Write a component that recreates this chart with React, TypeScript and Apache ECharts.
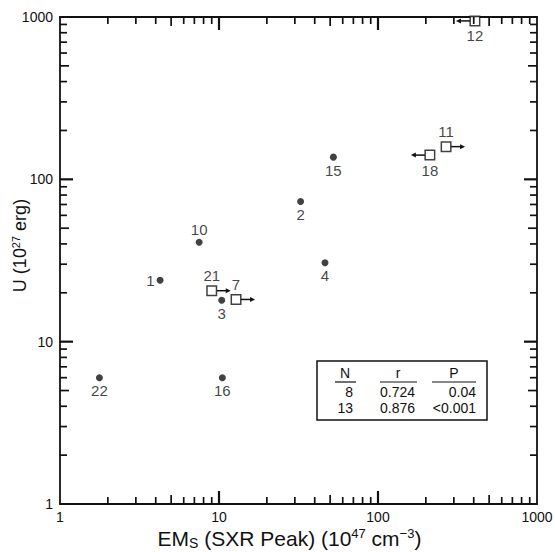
import React, { useEffect, useRef } from 'react';
import * as echarts from 'echarts';

const FONT = '"Liberation Sans", Arial, Helvetica, sans-serif';
const INK = '#111';

// Filled circles (events with measured values)
const circleIds = ['22', '16', '10', '1', '3', '15', '2', '4'];
const circleX = [1.77, 10.5, 7.5, 4.26, 10.4, 52.4, 32.6, 46.4];
const circleY = [6.0, 6.0, 41, 23.9, 18.0, 137, 73, 30.6];
const circleLabelPos = ['bottom', 'bottom', 'top', 'left', 'bottom', 'bottom', 'bottom', 'bottom'];

// Open squares (limits), arrow direction: 1 = right (lower limit), -1 = left (upper limit)
const squareIds = ['21', '7', '11', '18', '12'];
const squareX = [9.0, 12.8, 268, 212, 407];
const squareY = [20.6, 18.2, 159, 141, 946];
const squareLabelPos = ['top', 'top', 'top', 'bottom', 'bottom'];
const squareArrow = [1, 1, 1, -1, -1];

// Axis ticks
const majorTicks = [1, 10, 100, 1000];
const minorMultipliers = [2, 3, 4, 5, 6, 7, 8, 9];
const minorDecades = [1, 10, 100];

// Correlation table
const statsHeader = ['N', 'r', 'P'];
const statsN = ['8', '13'];
const statsR = ['0.724', '0.876'];
const statsP = ['0.04', '<0.001'];

const xName = '{a|EM}{sub|S}{a| (SXR Peak) (10}{sup|47}{a| cm}{sup|−3}{a|)}';
const yName = '{a|U (10}{sup|27}{a| erg)}';

const minorVals: number[] = [];
minorDecades.forEach((d) => minorMultipliers.forEach((m) => minorVals.push(d * m)));

const makeRich = (size: number) => ({
  a: { fontSize: size, fontFamily: FONT, color: INK, lineHeight: size + 2, verticalAlign: 'middle' },
  sub: { fontSize: Math.round(size * 0.68), fontFamily: FONT, color: INK, lineHeight: size + 2, verticalAlign: 'bottom' },
  sup: { fontSize: Math.round(size * 0.62), fontFamily: FONT, color: INK, lineHeight: size + 2, verticalAlign: 'top' },
});

const axisCommon = (pos: string, show: boolean) => ({
  type: 'log',
  logBase: 10,
  min: majorTicks[0],
  max: majorTicks[majorTicks.length - 1],
  position: pos,
  nameMoveOverlap: false,
  axisLine: { show: true, onZero: false, lineStyle: { color: INK, width: 1.8 } },
  axisTick: { show: false },
  axisLabel: {
    show,
    color: INK,
    fontSize: 14,
    fontFamily: FONT,
    formatter: (v: number) => String(Math.round(v)),
  },
  splitLine: { show: false },
  minorTick: { show: false },
});

const tickLen = (v: number) => {
  const m = Math.round(v / Math.pow(10, Math.floor(Math.log10(v) + 1e-9)));
  return m === 5 ? 9 : 7;
};

export default function App() {
  const ref = useRef<HTMLDivElement>(null);
  useEffect(() => {
    if (!ref.current) return;
    const chart = echarts.init(ref.current, undefined, { renderer: 'svg' });

    const option: any = {
      animation: false,
      backgroundColor: '#fff',
      grid: { left: 60, right: 18, top: 17, bottom: 48, containLabel: false, outerBoundsMode: 'none' },
      xAxis: [
        {
          ...axisCommon('bottom', true),
          axisLabel: { ...axisCommon('bottom', true).axisLabel, margin: 6 },
          name: xName,
          nameLocation: 'middle',
          nameGap: 23,
          nameTextStyle: { rich: makeRich(21), padding: [0, 18, 0, 0] },
        },
        { ...axisCommon('top', false) },
      ],
      yAxis: [
        {
          ...axisCommon('left', true),
          axisLabel: { ...axisCommon('left', true).axisLabel, margin: 7 },
          name: yName,
          nameLocation: 'middle',
          nameGap: 30,
          nameTextStyle: { rich: makeRich(18), padding: [0, 0, 0, 30] },
        },
        { ...axisCommon('right', false) },
      ],
      series: [
        {
          type: 'custom',
          silent: true,
          clip: false,
          z: 3,
          data: squareX.map((x, i) => [x, squareY[i], squareArrow[i]]),
          renderItem: (params: any, api: any) => {
            const p = api.coord([api.value(0), api.value(1)]);
            const d = api.value(2);
            const x0 = p[0] + d * 5;
            const x1 = p[0] + d * 19;
            return {
              type: 'group',
              children: [
                { type: 'line', shape: { x1: x0, y1: p[1], x2: x1 - d * 4, y2: p[1] }, style: { stroke: INK, lineWidth: 1.5 } },
                {
                  type: 'polygon',
                  shape: { points: [[x1, p[1]], [x1 - d * 5, p[1] - 2.5], [x1 - d * 5, p[1] + 2.5]] },
                  style: { fill: INK },
                },
              ],
            };
          },
        },
        {
          type: 'scatter',
          clip: false,
          z: 4,
          symbol: 'circle',
          symbolSize: 7,
          itemStyle: { color: INK },
          label: { show: true, distance: 2, color: INK, fontSize: 15, fontFamily: FONT, formatter: (p: any) => p.name },
          data: circleX.map((x, i) => ({ name: circleIds[i], value: [x, circleY[i]], label: { position: circleLabelPos[i] } })),
        },
        {
          type: 'scatter',
          clip: false,
          z: 5,
          symbol: 'rect',
          symbolSize: 9.5,
          itemStyle: { color: '#fff', borderColor: INK, borderWidth: 1.5 },
          label: { show: true, distance: 2, color: INK, fontSize: 15, fontFamily: FONT, formatter: (p: any) => p.name },
          data: squareX.map((x, i) => ({ name: squareIds[i], value: [x, squareY[i]], label: { position: squareLabelPos[i] } })),
        },
      ],
    };
    chart.setOption(option);

    // Ticks on all four sides (filled bars), placed through the chart's own log scales
    const px = (x: number, y: number) => chart.convertToPixel({ xAxisIndex: 0, yAxisIndex: 0 }, [x, y]) as any;
    const lo = majorTicks[0];
    const hi = majorTicks[majorTicks.length - 1];
    const graphic: any[] = [];
    const bar = (x: number, y: number, w: number, h: number) =>
      graphic.push({ type: 'rect', z: 6, silent: true, shape: { x, y, width: w, height: h }, style: { fill: INK } });
    const addTick = (v: number, L: number, w: number) => {
      const b = px(v, lo), t = px(v, hi), l = px(lo, v), r = px(hi, v);
      bar(b[0] - w / 2, b[1] - L, w, L);
      bar(t[0] - w / 2, t[1], w, L);
      bar(l[0], l[1] - w / 2, L, w);
      bar(r[0] - L, r[1] - w / 2, L, w);
    };
    majorTicks.slice(1, -1).forEach((v) => addTick(v, 13, 2.2));
    minorVals.forEach((v) => addTick(v, tickLen(v), 1.7));

    // Correlation table
    const tx = 317, tw = 170, ty = 361, th = 59;
    const headX = [345, 398, 454];
    const ulines = [[335, 356], [380, 417], [432, 476]];
    const colN = 353, colR = 380, colP = 476;
    const headY = 373;
    const rowY = [392, 408];
    graphic.push({ type: 'rect', z: 10, shape: { x: tx, y: ty, width: tw, height: th }, style: { fill: '#fff', stroke: INK, lineWidth: 1.5 } });
    statsHeader.forEach((h, i) => {
      graphic.push({ type: 'text', x: headX[i], y: headY, z: 11, style: { text: h, font: `14px ${FONT}`, fill: INK, align: 'center', verticalAlign: 'middle' } });
      graphic.push({ type: 'line', z: 11, shape: { x1: ulines[i][0], y1: 382, x2: ulines[i][1], y2: 382 }, style: { stroke: INK, lineWidth: 1.2 } });
    });
    statsN.forEach((n, i) => {
      graphic.push({ type: 'text', x: colN, y: rowY[i], z: 11, style: { text: n, font: `14px ${FONT}`, fill: INK, align: 'right', verticalAlign: 'middle' } });
      graphic.push({ type: 'text', x: colR, y: rowY[i], z: 11, style: { text: statsR[i], font: `14px ${FONT}`, fill: INK, align: 'left', verticalAlign: 'middle' } });
      graphic.push({ type: 'text', x: colP, y: rowY[i], z: 11, style: { text: statsP[i], font: `14px ${FONT}`, fill: INK, align: 'right', verticalAlign: 'middle' } });
    });

    chart.setOption({ graphic });
    return () => chart.dispose();
  }, []);
  return <div ref={ref} style={{ position: 'fixed', left: 0, top: 0, width: 555, height: 552, background: '#fff' }} />;
}
